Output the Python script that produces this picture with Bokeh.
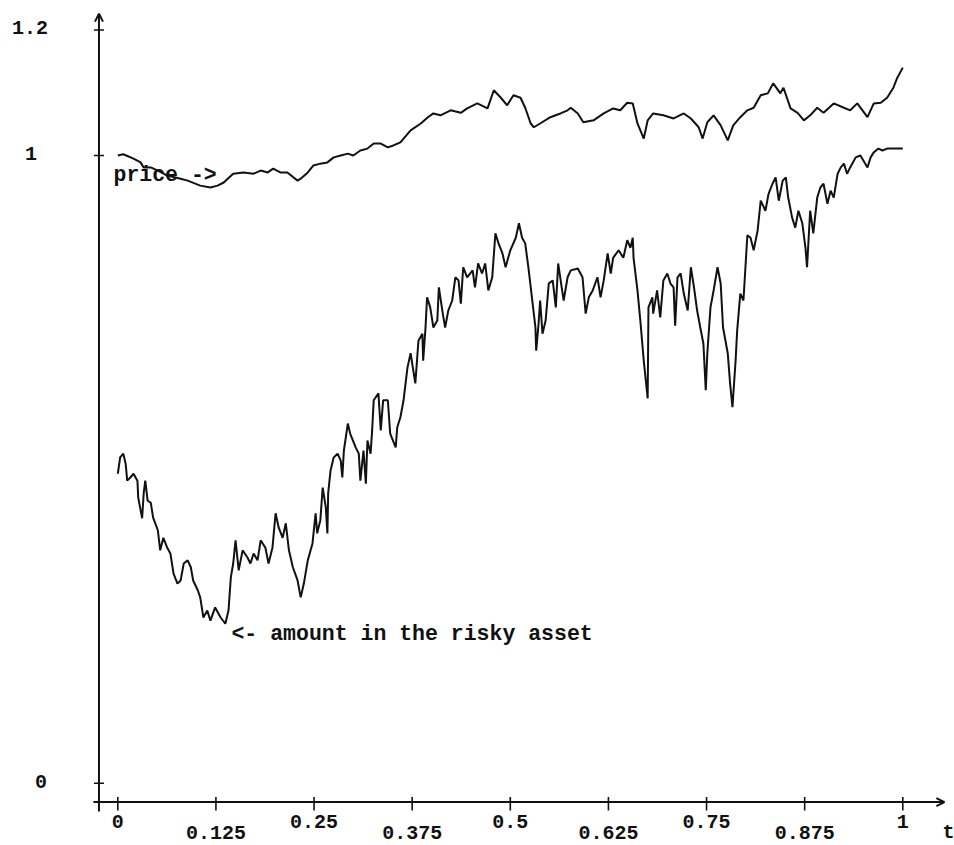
from bokeh.plotting import figure
from bokeh.models import Range1d, Arrow, OpenHead
from bokeh.core.properties import value
from bokeh.embed import file_html
from bokeh.resources import INLINE

# ---------------- data ----------------
price_t = [
    0.000, 0.007, 0.020, 0.029, 0.033, 0.042, 0.051, 0.063, 0.080, 0.089,
    0.105, 0.118, 0.127, 0.135, 0.140, 0.147, 0.160, 0.173, 0.182, 0.191,
    0.198, 0.207, 0.216, 0.229, 0.233, 0.242, 0.249, 0.258, 0.267, 0.275,
    0.284, 0.293, 0.300, 0.309, 0.318, 0.326, 0.335, 0.344, 0.351, 0.360,
    0.373, 0.386, 0.395, 0.402, 0.411, 0.424, 0.437, 0.445, 0.458, 0.471,
    0.479, 0.488, 0.496, 0.504, 0.513, 0.519, 0.526, 0.530, 0.538, 0.551,
    0.564, 0.573, 0.577, 0.586, 0.593, 0.606, 0.619, 0.631, 0.640, 0.649,
    0.656, 0.662, 0.670, 0.675, 0.682, 0.695, 0.708, 0.721, 0.730, 0.740,
    0.745, 0.751, 0.759, 0.768, 0.777, 0.784, 0.793, 0.802, 0.810, 0.819,
    0.828, 0.835, 0.844, 0.848, 0.857, 0.866, 0.874, 0.882, 0.891, 0.899,
    0.912, 0.925, 0.933, 0.942, 0.955, 0.963, 0.972, 0.980, 0.988, 0.993,
    1.000,
]
price_v = [
    1.000, 1.002, 0.995, 0.989, 0.981, 0.981, 0.976, 0.968, 0.963, 0.960,
    0.952, 0.949, 0.952, 0.957, 0.963, 0.971, 0.973, 0.971, 0.976, 0.973,
    0.979, 0.973, 0.973, 0.960, 0.963, 0.973, 0.984, 0.987, 0.989, 0.997,
    1.000, 1.003, 1.000, 1.008, 1.011, 1.019, 1.019, 1.013, 1.016, 1.021,
    1.040, 1.051, 1.061, 1.067, 1.064, 1.072, 1.068, 1.075, 1.083, 1.075,
    1.104, 1.092, 1.080, 1.096, 1.092, 1.076, 1.051, 1.045, 1.051, 1.061,
    1.067, 1.072, 1.076, 1.067, 1.053, 1.056, 1.067, 1.075, 1.072, 1.084,
    1.083, 1.051, 1.027, 1.056, 1.067, 1.064, 1.059, 1.067, 1.059, 1.045,
    1.027, 1.053, 1.064, 1.048, 1.024, 1.048, 1.061, 1.072, 1.076, 1.096,
    1.099, 1.115, 1.099, 1.108, 1.075, 1.068, 1.056, 1.064, 1.076, 1.068,
    1.083, 1.076, 1.072, 1.083, 1.061, 1.083, 1.084, 1.092, 1.108, 1.124,
    1.140,
]

amount_t = [
    0.000, 0.003, 0.007, 0.010, 0.012, 0.016, 0.020, 0.025, 0.026, 0.031,
    0.033, 0.035, 0.038, 0.042, 0.045, 0.051, 0.054, 0.058, 0.063, 0.067,
    0.071, 0.076, 0.080, 0.084, 0.089, 0.093, 0.096, 0.102, 0.105, 0.109,
    0.114, 0.118, 0.124, 0.131, 0.137, 0.141, 0.144, 0.147, 0.150, 0.154,
    0.159, 0.165, 0.169, 0.173, 0.178, 0.182, 0.188, 0.192, 0.197, 0.201,
    0.205, 0.210, 0.214, 0.218, 0.223, 0.229, 0.233, 0.237, 0.242, 0.248,
    0.252, 0.254, 0.258, 0.261, 0.265, 0.267, 0.268, 0.271, 0.275, 0.280,
    0.284, 0.286, 0.288, 0.293, 0.296, 0.303, 0.307, 0.309, 0.313, 0.316,
    0.318, 0.322, 0.324, 0.326, 0.332, 0.335, 0.338, 0.344, 0.347, 0.354,
    0.356, 0.360, 0.364, 0.369, 0.373, 0.377, 0.379, 0.383, 0.388, 0.389,
    0.392, 0.394, 0.398, 0.402, 0.407, 0.409, 0.414, 0.417, 0.421, 0.426,
    0.430, 0.434, 0.437, 0.440, 0.445, 0.452, 0.455, 0.459, 0.464, 0.468,
    0.472, 0.477, 0.481, 0.485, 0.490, 0.494, 0.500, 0.507, 0.511, 0.515,
    0.519, 0.523, 0.528, 0.532, 0.533, 0.536, 0.538, 0.541, 0.545, 0.549,
    0.554, 0.558, 0.561, 0.566, 0.568, 0.573, 0.577, 0.586, 0.592, 0.596,
    0.600, 0.605, 0.611, 0.615, 0.619, 0.624, 0.628, 0.631, 0.638, 0.644,
    0.649, 0.653, 0.656, 0.657, 0.662, 0.666, 0.670, 0.675, 0.676, 0.681,
    0.682, 0.687, 0.691, 0.695, 0.700, 0.704, 0.708, 0.710, 0.713, 0.717,
    0.721, 0.726, 0.730, 0.734, 0.738, 0.742, 0.746, 0.749, 0.751, 0.755,
    0.759, 0.764, 0.768, 0.771, 0.777, 0.780, 0.783, 0.787, 0.789, 0.793,
    0.797, 0.802, 0.806, 0.810, 0.815, 0.819, 0.825, 0.829, 0.834, 0.838,
    0.842, 0.847, 0.851, 0.854, 0.859, 0.863, 0.867, 0.872, 0.876, 0.878,
    0.882, 0.886, 0.891, 0.895, 0.899, 0.904, 0.908, 0.912, 0.917, 0.921,
    0.925, 0.929, 0.933, 0.940, 0.946, 0.955, 0.959, 0.963, 0.969, 0.974,
    0.980, 1.000,
]
amount_v = [
    0.493, 0.519, 0.525, 0.509, 0.482, 0.487, 0.493, 0.482, 0.455, 0.422,
    0.462, 0.482, 0.450, 0.447, 0.423, 0.403, 0.371, 0.391, 0.375, 0.366,
    0.334, 0.318, 0.323, 0.350, 0.355, 0.344, 0.323, 0.307, 0.296, 0.264,
    0.275, 0.259, 0.280, 0.264, 0.254, 0.275, 0.328, 0.350, 0.387, 0.339,
    0.371, 0.360, 0.350, 0.366, 0.355, 0.387, 0.375, 0.350, 0.375, 0.430,
    0.407, 0.391, 0.414, 0.371, 0.344, 0.323, 0.296, 0.318, 0.355, 0.382,
    0.430, 0.398, 0.419, 0.471, 0.439, 0.398, 0.462, 0.498, 0.519, 0.525,
    0.514, 0.487, 0.530, 0.573, 0.557, 0.535, 0.525, 0.482, 0.530, 0.477,
    0.546, 0.525, 0.562, 0.610, 0.621, 0.562, 0.610, 0.610, 0.557, 0.535,
    0.567, 0.583, 0.610, 0.662, 0.685, 0.653, 0.637, 0.705, 0.716, 0.673,
    0.726, 0.774, 0.758, 0.726, 0.737, 0.790, 0.748, 0.726, 0.753, 0.769,
    0.806, 0.801, 0.764, 0.822, 0.806, 0.817, 0.790, 0.828, 0.812, 0.828,
    0.785, 0.806, 0.876, 0.860, 0.844, 0.822, 0.849, 0.869, 0.892, 0.869,
    0.860, 0.822, 0.769, 0.726, 0.689, 0.732, 0.769, 0.716, 0.737, 0.796,
    0.801, 0.758, 0.828, 0.785, 0.769, 0.806, 0.817, 0.820, 0.806, 0.748,
    0.774, 0.785, 0.806, 0.774, 0.801, 0.844, 0.812, 0.837, 0.849, 0.837,
    0.865, 0.853, 0.869, 0.837, 0.785, 0.732, 0.673, 0.613, 0.758, 0.774,
    0.748, 0.785, 0.742, 0.801, 0.812, 0.796, 0.790, 0.729, 0.806, 0.812,
    0.780, 0.753, 0.822, 0.790, 0.753, 0.726, 0.700, 0.626, 0.685, 0.758,
    0.785, 0.822, 0.796, 0.726, 0.685, 0.637, 0.599, 0.673, 0.721, 0.780,
    0.769, 0.873, 0.869, 0.849, 0.880, 0.928, 0.912, 0.939, 0.955, 0.965,
    0.928, 0.960, 0.965, 0.933, 0.901, 0.885, 0.912, 0.892, 0.853, 0.822,
    0.912, 0.876, 0.933, 0.949, 0.955, 0.923, 0.944, 0.933, 0.971, 0.981,
    0.987, 0.971, 0.981, 0.997, 1.000, 0.981, 0.997, 1.005, 1.011, 1.008,
    1.011, 1.011,
]

x_ticks = [0, 0.125, 0.25, 0.375, 0.5, 0.625, 0.75, 0.875, 1]
x_tick_labels = ["0", "0.125", "0.25", "0.375", "0.5", "0.625", "0.75", "0.875", "1"]
y_ticks = [0, 1, 1.2]
y_tick_labels = ["0", "1", "1.2"]

# ---------------- layout / style ----------------
W, H = 954, 845
X_RANGE = (-0.14943, 1.06586)
Y_RANGE = (-0.09925, 1.24693)
INK = "#111111"
FONT = value("Liberation Mono")

AXIS_X = -0.024        # position of the vertical axis (in t)
AXIS_Y = -0.030        # position of the horizontal axis (in value)
TICK_HALF_T = 0.0064
X_TICK_TOP, X_TICK_BOT = -0.022, -0.0435
ROW1_Y, ROW2_Y = -0.0706, -0.0955
Y_LABEL_X = [-0.0978, -0.1106, -0.1118]
TXT_SHIFT = -6         # pixel nudge of baseline-anchored texts
ROW2_SHIFT = -11       # lower label row kept inside the picture

p = figure(width=W, height=H, x_range=Range1d(*X_RANGE), y_range=Range1d(*Y_RANGE),
           x_axis_type=None, y_axis_type=None, toolbar_location=None,
           output_backend="svg", min_border=0, title=None)
p.outline_line_color = None
p.background_fill_color = "white"
p.border_fill_color = "white"

# curves
p.line(price_t, price_v, line_color=INK, line_width=2)
p.line(amount_t, amount_v, line_color=INK, line_width=2)

# axes with arrow heads
p.add_layout(Arrow(end=OpenHead(size=8, line_width=2, line_color=INK),
                   x_start=AXIS_X, y_start=-0.045, x_end=AXIS_X, y_end=1.226,
                   line_width=2, line_color=INK))
p.add_layout(Arrow(end=OpenHead(size=8, line_width=2, line_color=INK),
                   x_start=-0.031, y_start=AXIS_Y, x_end=1.053, y_end=AXIS_Y,
                   line_width=2, line_color=INK))

# ticks
p.segment(x0=x_ticks, y0=[X_TICK_TOP] * len(x_ticks), x1=x_ticks, y1=[X_TICK_BOT] * len(x_ticks),
          line_color=INK, line_width=1.6)
p.segment(x0=[AXIS_X - TICK_HALF_T] * len(y_ticks), y0=y_ticks,
          x1=[AXIS_X + TICK_HALF_T] * len(y_ticks), y1=y_ticks,
          line_color=INK, line_width=1.6)

# tick labels
lab_kw = dict(text_font=FONT, text_font_style="bold", text_font_size="20px", text_color=INK)
p.text(x=x_ticks[0::2], y=[ROW1_Y] * len(x_ticks[0::2]), text=x_tick_labels[0::2],
       text_align="center", text_baseline="alphabetic", y_offset=TXT_SHIFT, **lab_kw)
p.text(x=x_ticks[1::2], y=[ROW2_Y] * len(x_ticks[1::2]), text=x_tick_labels[1::2],
       text_align="center", text_baseline="alphabetic", y_offset=ROW2_SHIFT, **lab_kw)
p.text(x=Y_LABEL_X, y=y_ticks, text=y_tick_labels,
       text_align="center", text_baseline="middle", y_offset=-2, **lab_kw)
p.text(x=[1.0506], y=[ROW2_Y], text=["t"], text_align="left", text_baseline="alphabetic",
       y_offset=ROW2_SHIFT, **lab_kw)

# curve annotations
ann_kw = dict(text_font=FONT, text_font_style="bold", text_font_size="21.5px", text_color=INK,
              text_align="left", text_baseline="alphabetic", y_offset=TXT_SHIFT)
p.text(x=[-0.0055], y=[0.9586], text=["price ->"], **ann_kw)
p.text(x=[0.1448], y=[0.2289], text=["<- amount in the risky asset"], **ann_kw)

open("out.html", "w").write(file_html(p, INLINE))
